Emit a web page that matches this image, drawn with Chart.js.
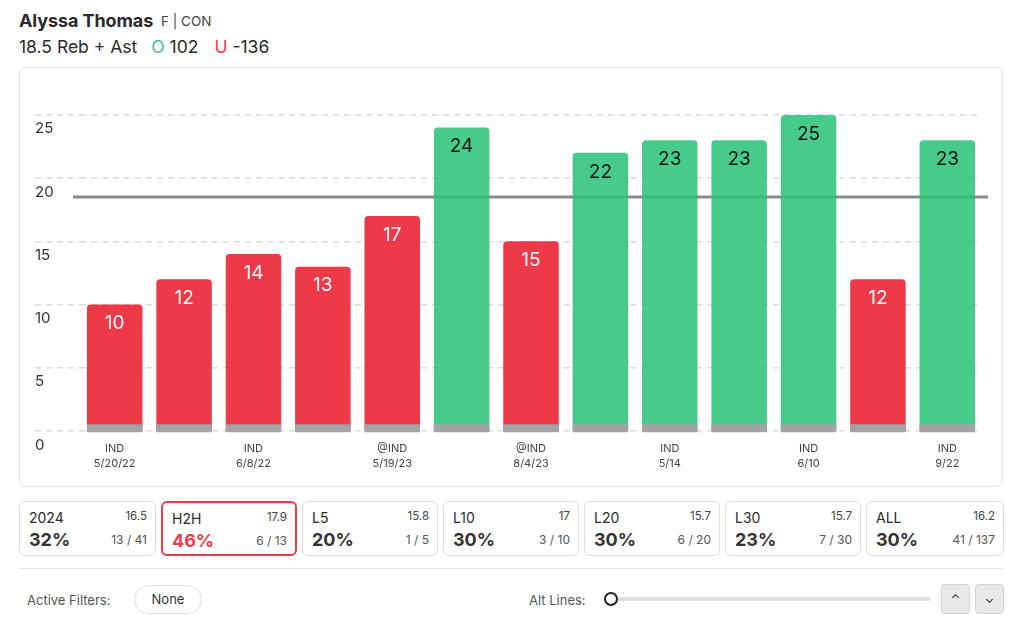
<!DOCTYPE html>
<html>
<head>
<meta charset="utf-8">
<script src="https://cdn.jsdelivr.net/npm/chart.js@4/dist/chart.umd.min.js"></script>
<style>
  html, body { margin:0; padding:0; background:#fff; width:1024px; height:623px; overflow:hidden; font-family: Inter, "Noto Sans", sans-serif; color:#222; }
  .abs { position:absolute; }
  #name { left:19px; top:10px; font-size:18px; font-weight:700; color:#2a2a2a; letter-spacing:-0.1px; }
  #team { left:161px; top:13px; font-size:13.5px; color:#444; }
  #line2 { left:19px; top:36px; font-size:17.5px; color:#2a2a2a; white-space:nowrap; }
  #line2 .o { color:#3cc47f; margin-left:14px; }
  #line2 .u { color:#ee3b48; margin-left:16px; }
  #box { left:19px; top:67px; width:984px; height:420px; border:1px solid #e3e3e3; border-radius:7px; box-sizing:border-box; }
  #cv { left:20px; top:68px; }
  .card { position:absolute; top:501px; height:55px; border:1.5px solid #dcdcdc; border-radius:6px; box-sizing:border-box; }
  .card.sel { border:2px solid #ee3b48; }
  .card .t { position:absolute; left:9px; top:7px; font-size:14px; color:#2a2a2a; }
  .card .v { position:absolute; right:8px; top:7px; font-size:11.5px; color:#444; }
  .card .p { position:absolute; left:9px; top:27px; font-size:18px; font-weight:700; color:#333; }
  .card.sel .p { color:#ee3b48; }
  .card .f { position:absolute; right:8px; top:30px; font-size:12px; color:#555; }
  #sep { left:19px; top:568px; width:985px; height:1px; background:#e6e6e6; }
  #af { left:27px; top:592px; font-size:13px; color:#555; }
  #none { left:134px; top:585px; width:68px; height:29px; border:1.5px solid #dedede; border-radius:15px; box-sizing:border-box; font-size:13px; color:#333; text-align:center; line-height:26px; }
  #alt { left:529px; top:592px; font-size:13px; color:#555; }
  #track { left:612px; top:597px; width:318px; height:4px; background:#dedede; border-radius:2px; }
  #knob { left:604px; top:592px; width:10px; height:10px; border:2px solid #222; border-radius:50%; background:#fff; }
  .btn { position:absolute; top:584px; width:29px; height:30px; background:#e9e9e9; border:1px solid #d3d3d3; border-radius:4px; box-sizing:border-box; font-size:12px; color:#222; text-align:center; line-height:28px; }
</style>
</head>
<body>
<div class="abs" id="name">Alyssa Thomas</div>
<div class="abs" id="team">F | CON</div>
<div class="abs" id="line2">18.5 Reb + Ast<span class="o">O</span> 102<span class="u">U</span> -136</div>
<div class="abs" id="box"></div>
<canvas class="abs" id="cv" width="984" height="418"></canvas>
<div id="cards"></div>
<div class="abs" id="sep"></div>
<div class="abs" id="af">Active Filters:</div>
<div class="abs" id="none">None</div>
<div class="abs" id="alt">Alt Lines:</div>
<div class="abs" id="track"></div>
<div class="abs" id="knob"></div>
<div class="btn" style="left:941px;">&#8963;</div>
<div class="btn" style="left:975px;">&#8964;</div>
<script>
// ---- data ----
const opponents = ['IND','','IND','','@IND','','@IND','','IND','','IND','','IND'];
const gameDates = ['5/20/22','','6/8/22','','5/19/23','','8/4/23','','5/14','','6/10','','9/22'];
const values = [10, 12, 14, 13, 17, 24, 15, 22, 23, 23, 25, 12, 23];
const propLine = 18.5;
const yTicks = [0, 5, 10, 15, 20, 25];

const cardTitles = ['2024','H2H','L5','L10','L20','L30','ALL'];
const cardAvgs = ['16.5','17.9','15.8','17','15.7','15.7','16.2'];
const cardPcts = ['32%','46%','20%','30%','30%','23%','30%'];
const cardFracs = ['13 / 41','6 / 13','1 / 5','3 / 10','6 / 20','7 / 30','41 / 137'];

// ---- cards ----
const cardLefts = [19, 161, 302, 443, 584, 725, 866];
const cardWidths = [137, 136, 136, 136, 136, 136, 138];
const cardsEl = document.getElementById('cards');
cardTitles.forEach((t, i) => {
  const d = document.createElement('div');
  d.className = 'card' + (t === 'H2H' ? ' sel' : '');
  d.style.left = cardLefts[i] + 'px';
  d.style.width = cardWidths[i] + 'px';
  d.innerHTML = `<div class="t">${t}</div><div class="v">${cardAvgs[i]}</div><div class="p">${cardPcts[i]}</div><div class="f">${cardFracs[i]}</div>`;
  cardsEl.appendChild(d);
});

// ---- chart ----
const RED = 'rgba(236,31,47,0.88)';
const GREEN = 'rgba(46,196,123,0.88)';
const labels = opponents.map((o, i) => [o, gameDates[i]]);

const linePlugin = {
  id: 'propLine',
  beforeDatasetsDraw(chart) {
    const {ctx, chartArea, scales: {y}} = chart;
    const py = y.getPixelForValue(propLine);
    ctx.save();
    ctx.strokeStyle = '#8a8a8a';
    ctx.lineWidth = 3;
    ctx.beginPath();
    ctx.moveTo(chartArea.left - 7, py);
    ctx.lineTo(chartArea.right + 6, py);
    ctx.stroke();
    ctx.restore();
  }
};

const barDecor = {
  id: 'barDecor',
  afterDatasetsDraw(chart) {
    const {ctx} = chart;
    const meta = chart.getDatasetMeta(0);
    ctx.save();
    meta.data.forEach((bar, i) => {
      const w = bar.width;
      ctx.fillStyle = '#a4a4a4';
      ctx.fillRect(bar.x - w / 2, bar.base - 6, w, 8);
      const v = values[i];
      ctx.fillStyle = v > propLine ? '#111' : '#fff';
      ctx.font = '19px Inter, "Noto Sans", sans-serif';
      ctx.textAlign = 'center';
      ctx.textBaseline = 'middle';
      ctx.fillText(String(v), bar.x, bar.y + 19);
    });
    ctx.restore();
  }
};

new Chart(document.getElementById('cv'), {
  type: 'bar',
  data: {
    labels: labels,
    datasets: [{
      data: values,
      backgroundColor: values.map(v => v > propLine ? GREEN : RED),
      borderRadius: {topLeft: 4, topRight: 4, bottomLeft: 0, bottomRight: 0},
      borderSkipped: 'bottom',
      barPercentage: 0.8,
      categoryPercentage: 1.0
    }]
  },
  options: {
    responsive: false,
    animation: false,
    devicePixelRatio: 1,
    layout: { padding: { left: 15, right: 22, top: 9, bottom: 0 } },
    plugins: { legend: { display: false }, tooltip: { enabled: false } },
    scales: {
      x: {
        grid: { display: false, drawTicks: false },
        border: { display: false },
        ticks: {
          autoSkip: false, maxRotation: 0, padding: 11,
          color: '#444',
          font: { family: 'Inter, "Noto Sans", sans-serif', size: 11, lineHeight: 1.3 }
        },
        afterFit(scale) { scale.height = 55; }
      },
      y: {
        min: 0, max: 28,
        afterBuildTicks(scale) { scale.ticks = yTicks.map(v => ({ value: v })); },
        grid: {
          color: '#dcdcdc', lineWidth: 1.5,
          drawTicks: true, tickLength: 45,
          tickColor: '#dcdcdc', tickWidth: 1.5, tickBorderDash: [6, 5]
        },
        border: { display: false, dash: [6, 5] },
        ticks: {
          crossAlign: 'far', labelOffset: 14, padding: 0,
          color: '#333',
          font: { family: 'Inter, "Noto Sans", sans-serif', size: 15 }
        },
        afterFit(scale) { scale.width = 45; }
      }
    }
  },
  plugins: [linePlugin, barDecor]
});
</script>
</body>
</html>
